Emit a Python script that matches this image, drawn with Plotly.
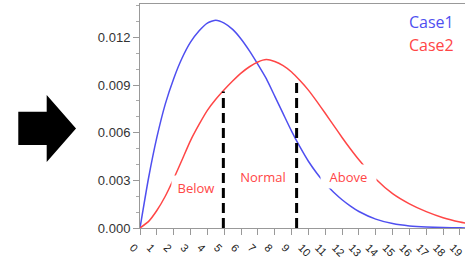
import plotly.graph_objects as go

# ---- data ----
x_pts = [0, 0.5, 1, 1.5, 2, 2.5, 3, 3.5, 4, 4.5, 5, 5.5, 6, 6.5, 7, 7.5, 8, 8.5,
         9, 9.5, 10, 10.5, 11, 11.5, 12, 12.5, 13, 14, 15, 16, 17, 18, 19, 19.5]
case1 = [0, 0.0031, 0.0057, 0.0078, 0.0094, 0.0107, 0.0117, 0.0124, 0.0129, 0.01308,
         0.0129, 0.0125, 0.0119, 0.01115, 0.0103, 0.0094, 0.0083, 0.0072, 0.0061,
         0.0051, 0.0042, 0.00345, 0.0028, 0.00225, 0.00178, 0.00138, 0.00104,
         0.00056, 0.00028, 0.00013, 0.00006, 0.00003, 0.00001, 0.000005]
case2 = [0, 0.0004, 0.0011, 0.0020, 0.0031, 0.0043, 0.0055, 0.0065, 0.0074, 0.0081,
         0.0087, 0.00925, 0.00975, 0.01015, 0.01045, 0.0106, 0.01048, 0.01022, 0.00982,
         0.00928, 0.00868, 0.00797, 0.00722, 0.00646, 0.0057, 0.00497, 0.00429,
         0.00308, 0.00216, 0.00152, 0.00103, 0.00065, 0.00038, 0.00028]
series_names = ["Case1", "Case2"]
cut_x = [4.95, 9.3]
cut_top = [0.0086, 0.0094]
zone_labels = ["Below", "Normal", "Above"]
zone_x = [3.33, 7.3, 12.39]
zone_y = [0.00255, 0.00327, 0.00325]
y_ticks = [0, 0.003, 0.006, 0.009, 0.012]
x_ticks = list(range(0, 20))

BLUE = "#4f4ff0"
RED = "#ff4646"

W, H = 465, 260
ML, MR, MT, MB = 140, 0, 4, 32
PW, PH = W - ML - MR, H - MT - MB


def px(xp):
    return (xp - ML) / PW


def py(yp):
    return (H - MB - yp) / PH


fig = go.Figure()
fig.add_trace(go.Scatter(x=x_pts, y=case1, mode="lines", name=series_names[0],
                         line=dict(color=BLUE, width=1.5, shape="spline", smoothing=0.5)))
fig.add_trace(go.Scatter(x=x_pts, y=case2, mode="lines", name=series_names[1],
                         line=dict(color=RED, width=1.5, shape="spline", smoothing=0.5)))
for cx, ct in zip(cut_x, cut_top):
    fig.add_trace(go.Scatter(x=[cx, cx], y=[0, ct], mode="lines", showlegend=False,
                             line=dict(color="black", width=3, dash="10px,5px")))

widths = [48, 46, 55]
for t, zx, zy, w in zip(zone_labels, zone_x, zone_y, widths):
    fig.add_annotation(x=zx, y=zy, xref="x", yref="y", text=t, showarrow=False,
                       font=dict(family="Open Sans", size=13, color=RED),
                       bgcolor="white", width=w, height=23, borderpad=0)

fig.add_annotation(x=px(456), y=py(22), xref="paper", yref="paper", text=series_names[0],
                   showarrow=False, xanchor="right", yanchor="middle",
                   font=dict(family="Open Sans", size=16, color=BLUE))
fig.add_annotation(x=px(456), y=py(45.5), xref="paper", yref="paper", text=series_names[1],
                   showarrow=False, xanchor="right", yanchor="middle",
                   font=dict(family="Open Sans", size=16, color=RED))

# block arrow in left margin
pts = [(18.3, 111.7), (46.7, 111.7), (46.7, 95), (76, 128.5), (46.7, 162), (46.7, 145), (18.3, 145)]
path = "M " + " L ".join(f"{px(a):.4f},{py(b):.4f}" for a, b in pts) + " Z"
fig.add_shape(type="path", path=path, xref="paper", yref="paper",
              fillcolor="black", line=dict(color="black", width=0))

fig.update_layout(
    width=W, height=H, margin=dict(l=ML, r=MR, t=MT, b=MB, autoexpand=False),
    paper_bgcolor="white", plot_bgcolor="white", showlegend=False,
    font=dict(family="Liberation Sans", color="#333"),
)
fig.update_xaxes(range=[0, 19.3], tickvals=x_ticks, tickangle=45, automargin=False,
                 ticks="outside", ticklen=6, tickcolor="#999", showline=True,
                 linecolor="#999", linewidth=1, mirror=True, showgrid=False,
                 zeroline=False, tickfont=dict(size=11, color="#222"),
                 ticklabelstandoff=2, ticklabelshift=-7)
fig.update_yaxes(range=[0, 0.0141], tickvals=y_ticks, tickformat=".3f", automargin=False,
                 ticks="outside", ticklen=6, tickcolor="#999", showline=True,
                 linecolor="#999", linewidth=1, showgrid=False, zeroline=False,
                 tickfont=dict(size=13, color="#333"),
                 minor=dict(dtick=0.001, ticks="outside", ticklen=3, tickcolor="#aaa"))

fig.write_html("out.html", config={"displayModeBar": False},
               post_script="document.body.style.margin='0';document.body.style.padding='0';")
